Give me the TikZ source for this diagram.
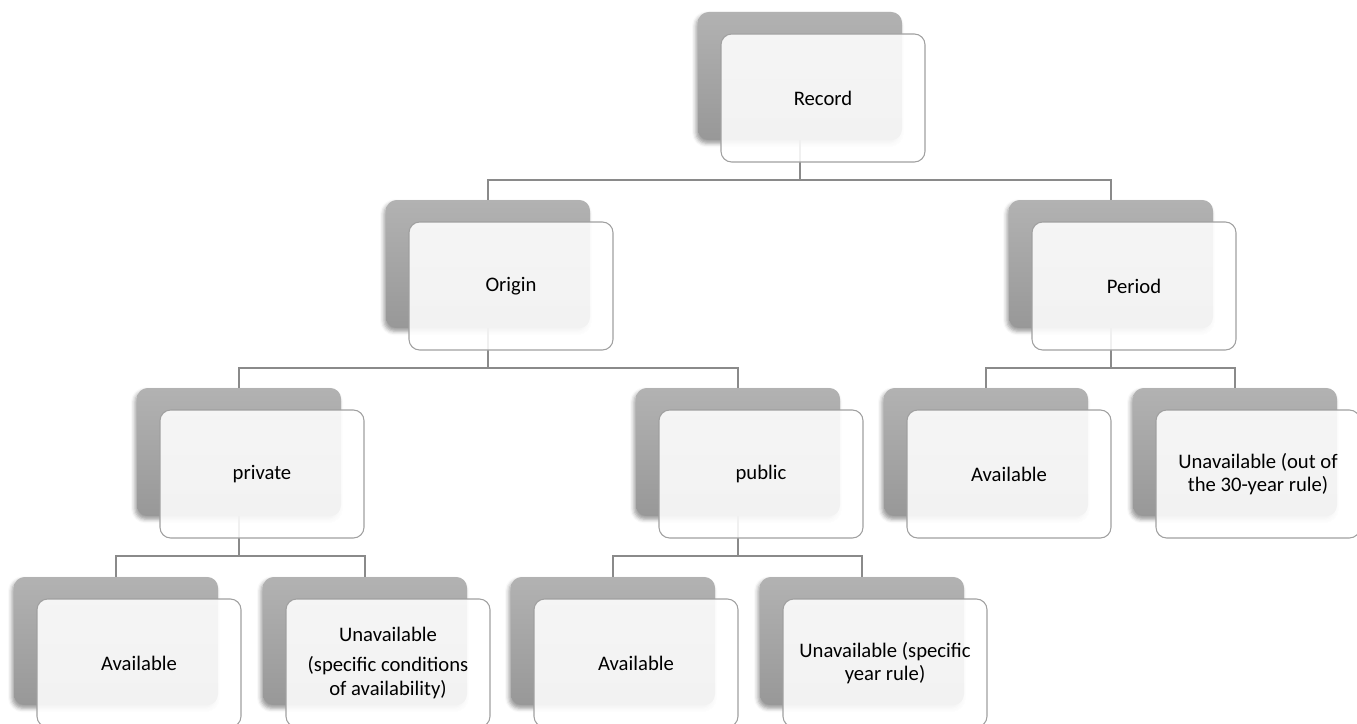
\documentclass[tikz,border=0pt]{standalone}
\usepackage{fontspec}
\setmainfont{Carlito}
\usetikzlibrary{
    positioning,
    calc,
    shadows.blur
}
\definecolor{cardGray}{RGB}{178, 178, 178}
\definecolor{cardGrayDark}{RGB}{152, 152, 152}
\definecolor{frameGray}{RGB}{160, 160, 160}
\definecolor{linkGray}{RGB}{138, 138, 138}

\tikzset{
    cardback/.style={rectangle, rounded corners=8pt, minimum width=153pt, minimum height=96pt,
        inner sep=0pt, top color=cardGray, bottom color=cardGrayDark,
        blur shadow={shadow xshift=-1.5pt, shadow yshift=-2.5pt, shadow blur radius=3pt, shadow opacity=40}},
    cardfront/.style={rectangle, rounded corners=8pt, minimum width=153pt, minimum height=96pt,
        inner sep=2pt, draw=frameGray, line width=0.8pt, fill=white, fill opacity=0.88, text opacity=1,
        align=center, font=\fontsize{15.5}{17.5}\selectfont},
    link/.style={draw=linkGray, line width=1.5pt}
}

\begin{document}
\begin{tikzpicture}[x=0.75pt, y=-0.75pt]
    \useasboundingbox (0,0) rectangle (1357,724);

    % grey cards behind
    \node[cardback] (record) at (800,76) {};
    \node[cardback] (origin) at (488,264) {};
    \node[cardback] (period) at (1111,264) {};
    \node[cardback] (private) at (239,452) {};
    \node[cardback] (public) at (738,452) {};
    \node[cardback] (perAvail) at (986,452) {};
    \node[cardback] (perUnavail) at (1235,452) {};
    \node[cardback] (privAvail) at (116,641) {};
    \node[cardback] (privUnavail) at (365,641) {};
    \node[cardback] (pubAvail) at (613,641) {};
    \node[cardback] (pubUnavail) at (862,641) {};

    % tree links
    \draw[link] (record.south) -- ++(0,40) -| (origin.north);
    \draw[link] (record.south) -- ++(0,40) -| (period.north);
    \draw[link] (origin.south) -- ++(0,40) -| (private.north);
    \draw[link] (origin.south) -- ++(0,40) -| (public.north);
    \draw[link] (period.south) -- ++(0,40) -| (perAvail.north);
    \draw[link] (period.south) -- ++(0,40) -| (perUnavail.north);
    \draw[link] (private.south) -- ++(0,40) -| (privAvail.north);
    \draw[link] (private.south) -- ++(0,40) -| (privUnavail.north);
    \draw[link] (public.south) -- ++(0,40) -| (pubAvail.north);
    \draw[link] (public.south) -- ++(0,40) -| (pubUnavail.north);

    % white cards with the labels
    \node[cardfront] (record-f) at ([shift={(23,22)}]record.center) {Record};
    \node[cardfront] (origin-f) at ([shift={(23,22)}]origin.center) {Origin};
    \node[cardfront] (period-f) at ([shift={(23,22)}]period.center) {Period};
    \node[cardfront] (private-f) at ([shift={(23,22)}]private.center) {private};
    \node[cardfront] (public-f) at ([shift={(23,22)}]public.center) {public};
    \node[cardfront] (perAvail-f) at ([shift={(23,22)}]perAvail.center) {Available};
    \node[cardfront] (perUnavail-f) at ([shift={(23,22)}]perUnavail.center) {Unavailable (out of\\the 30-year rule)};
    \node[cardfront] (privAvail-f) at ([shift={(23,22)}]privAvail.center) {Available};
    \node[cardfront] (privUnavail-f) at ([shift={(23,22)}]privUnavail.center) {Unavailable\\[5pt](specific conditions\\of availability)};
    \node[cardfront] (pubAvail-f) at ([shift={(23,22)}]pubAvail.center) {Available};
    \node[cardfront] (pubUnavail-f) at ([shift={(23,22)}]pubUnavail.center) {Unavailable (specific\\year rule)};
\end{tikzpicture}
\end{document}
